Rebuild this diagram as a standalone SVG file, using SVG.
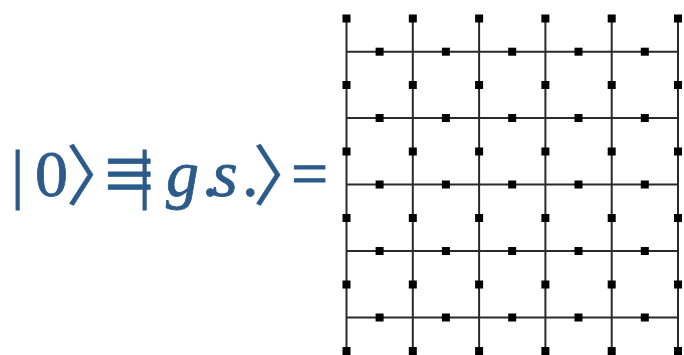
<svg xmlns="http://www.w3.org/2000/svg" width="684" height="355" viewBox="0 0 684 355">
<style>
.t{font-size:66px;fill:#2c5b8b;stroke:#2c5b8b;stroke-width:0.8}
.i{font-style:italic}
.br{stroke-width:0.4}
.ln{stroke:#2a2a2a;stroke-width:2;fill:none}
.nd{fill:#000}
</style>
<defs><rect id="sq" x="-4" y="-4" width="8" height="8"/></defs>
<g id="label">
<text class="t" y="196" font-family="Liberation Serif, serif"><tspan x="11">|</tspan><tspan x="35">0</tspan><tspan x="66" class="br" dy="4" font-family="Noto Sans CJK SC, sans-serif">〉</tspan><tspan x="104" dy="4" font-size="90">≡</tspan><tspan x="138" dy="-8">|</tspan><tspan x="166" class="i">g</tspan><tspan x="202">.</tspan><tspan x="212" class="i">s</tspan><tspan x="242">.</tspan><tspan x="253" class="br" dy="4" font-family="Noto Sans CJK SC, sans-serif">〉</tspan><tspan x="291" dy="-4">=</tspan></text>
</g>
<g id="connectors" class="ln">
<path d="M346.5 18.5V351M412.8 18.5V351M479.1 18.5V351M545.4 18.5V351M611.7 18.5V351M678 18.5V351"/>
<path d="M346.5 51.7H678M346.5 118H678M346.5 184.5H678M346.5 251H678M346.5 317.5H678"/>
</g>
<g id="nodes" class="nd">
<g id="vnodes">
<use href="#sq" x="346.5" y="18.5"/><use href="#sq" x="412.8" y="18.5"/><use href="#sq" x="479.1" y="18.5"/><use href="#sq" x="545.4" y="18.5"/><use href="#sq" x="611.7" y="18.5"/><use href="#sq" x="678" y="18.5"/>
<use href="#sq" x="346.5" y="85"/><use href="#sq" x="412.8" y="85"/><use href="#sq" x="479.1" y="85"/><use href="#sq" x="545.4" y="85"/><use href="#sq" x="611.7" y="85"/><use href="#sq" x="678" y="85"/>
<use href="#sq" x="346.5" y="151.5"/><use href="#sq" x="412.8" y="151.5"/><use href="#sq" x="479.1" y="151.5"/><use href="#sq" x="545.4" y="151.5"/><use href="#sq" x="611.7" y="151.5"/><use href="#sq" x="678" y="151.5"/>
<use href="#sq" x="346.5" y="218"/><use href="#sq" x="412.8" y="218"/><use href="#sq" x="479.1" y="218"/><use href="#sq" x="545.4" y="218"/><use href="#sq" x="611.7" y="218"/><use href="#sq" x="678" y="218"/>
<use href="#sq" x="346.5" y="284.5"/><use href="#sq" x="412.8" y="284.5"/><use href="#sq" x="479.1" y="284.5"/><use href="#sq" x="545.4" y="284.5"/><use href="#sq" x="611.7" y="284.5"/><use href="#sq" x="678" y="284.5"/>
<use href="#sq" x="346.5" y="351"/><use href="#sq" x="412.8" y="351"/><use href="#sq" x="479.1" y="351"/><use href="#sq" x="545.4" y="351"/><use href="#sq" x="611.7" y="351"/><use href="#sq" x="678" y="351"/>
</g>
<g id="hnodes">
<use href="#sq" x="379.6" y="51.7"/><use href="#sq" x="445.9" y="51.7"/><use href="#sq" x="512.2" y="51.7"/><use href="#sq" x="578.5" y="51.7"/><use href="#sq" x="644.8" y="51.7"/>
<use href="#sq" x="379.6" y="118"/><use href="#sq" x="445.9" y="118"/><use href="#sq" x="512.2" y="118"/><use href="#sq" x="578.5" y="118"/><use href="#sq" x="644.8" y="118"/>
<use href="#sq" x="379.6" y="184.5"/><use href="#sq" x="445.9" y="184.5"/><use href="#sq" x="512.2" y="184.5"/><use href="#sq" x="578.5" y="184.5"/><use href="#sq" x="644.8" y="184.5"/>
<use href="#sq" x="379.6" y="251"/><use href="#sq" x="445.9" y="251"/><use href="#sq" x="512.2" y="251"/><use href="#sq" x="578.5" y="251"/><use href="#sq" x="644.8" y="251"/>
<use href="#sq" x="379.6" y="317.5"/><use href="#sq" x="445.9" y="317.5"/><use href="#sq" x="512.2" y="317.5"/><use href="#sq" x="578.5" y="317.5"/><use href="#sq" x="644.8" y="317.5"/>
</g>
</g>
</svg>
